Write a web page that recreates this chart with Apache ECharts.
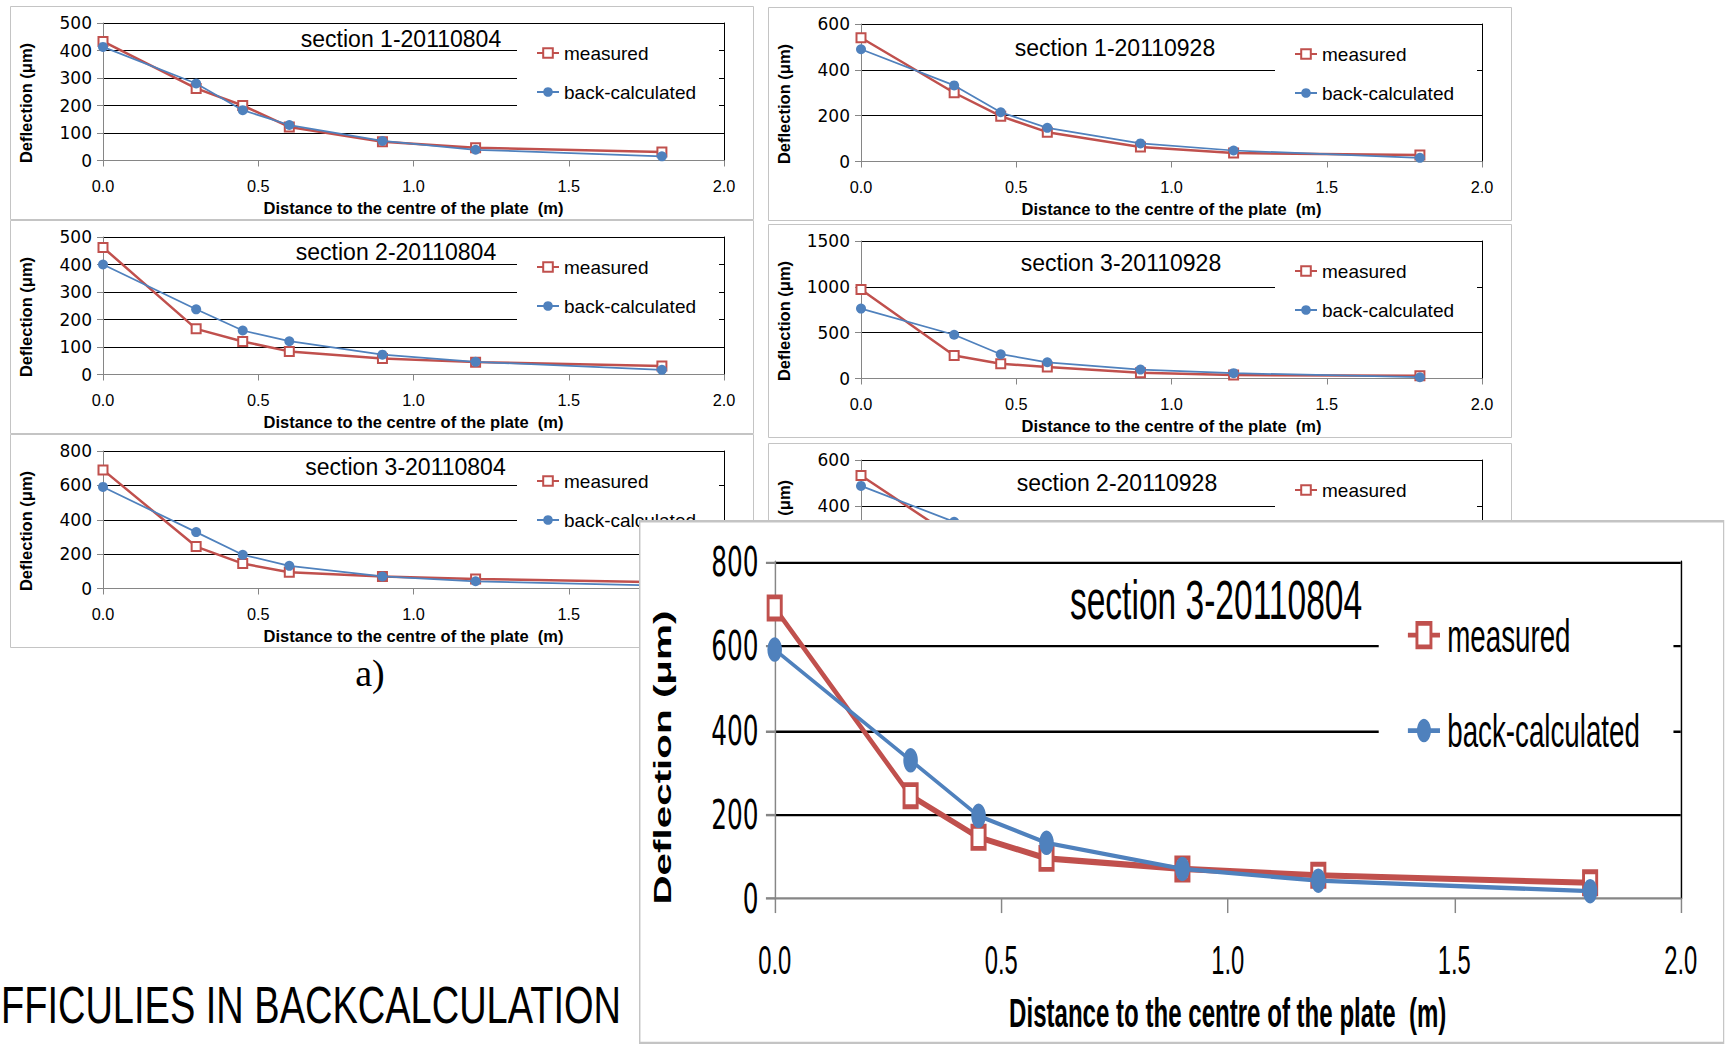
<!DOCTYPE html>
<html>
<head>
<meta charset="utf-8">
<script src="https://cdn.jsdelivr.net/npm/echarts@6/dist/echarts.min.js"></script>
<style>
  html, body { margin: 0; padding: 0; background: #fff; width: 1725px; height: 1046px; overflow: hidden; }
  .pane { position: absolute; }
</style>
</head>
<body>
<div id="page" class="pane" style="left:0;top:0;width:1725px;height:1046px"></div>
<div id="pA" class="pane" style="left:10px;top:6px;width:744px;height:214px"></div>
<div id="pC" class="pane" style="left:10px;top:220px;width:744px;height:214px"></div>
<div id="pE" class="pane" style="left:10px;top:434px;width:744px;height:214px"></div>
<div id="pB" class="pane" style="left:768px;top:7px;width:744px;height:214px"></div>
<div id="pD" class="pane" style="left:768px;top:224px;width:744px;height:214px"></div>
<div id="pF" class="pane" style="left:768px;top:443px;width:744px;height:214px"></div>
<!-- enlarged copy of section 3-20110804 -->
<div id="pBig" class="pane" style="left:639px;top:520px;width:744px;height:214px;transform:scale(1.459,2.449);transform-origin:0 0"></div>
<script>
// Distance of each geophone to the centre of the load plate (m)
const distance = [0, 0.3, 0.45, 0.6, 0.9, 1.2, 1.8];

// Deflections (µm)
const sec1_0804_measured = [433, 262, 200, 122, 68, 46, 31];
const sec1_0804_back     = [413, 280, 183, 129, 71, 39, 15];

const sec2_0804_measured = [462, 166, 120, 84, 58, 45, 31];
const sec2_0804_back     = [400, 237, 160, 121, 72, 46, 17];

const sec3_0804_measured = [690, 244, 145, 95, 70, 55, 37];
const sec3_0804_back     = [591, 328, 196, 132, 70, 42, 17];

const sec1_0928_measured = [540, 300, 198, 128, 63, 37, 28];
const sec1_0928_back     = [490, 332, 215, 147, 79, 48, 16];

const sec3_0928_measured = [970, 251, 161, 126, 62, 38, 30];
const sec3_0928_back     = [763, 477, 265, 177, 97, 58, 14];

const sec2_0928_measured = [532, 262, 172, 118, 64, 44, 30];
const sec2_0928_back     = [487, 330, 220, 150, 80, 50, 18];

// Axis scales
const xMax = 2.0, xStep = 0.5;

const SANS = "'Liberation Sans', Arial, sans-serif";
const RED = '#C0504D', BLUE = '#4F81BD';

function buildOption(p) {
  const pts = arr => distance.map((d, i) => [d, arr[i]]);
  const graphic = [
    { type: 'rect', silent: true, shape: { x: 0.5, y: 0.5, width: 743, height: 213 },
      style: { fill: 'none', stroke: '#c4c4c4', lineWidth: 1 } },
    { type: 'text', silent: true, x: p.tx, y: p.ty, z: 10,
      style: { text: p.title, fontFamily: SANS, fontSize: 23, fill: '#000', align: 'center', verticalAlign: 'middle' } },
    { type: 'text', silent: true, x: 16, y: 97, rotation: Math.PI / 2, z: 10,
      style: { text: 'Deflection (\u03bcm)', fontFamily: SANS, fontWeight: 'bold', fontSize: 16.5, fill: '#000', align: 'center', verticalAlign: 'middle' } }
  ];
  // the lower strip of a panel lying under the enlarged chart carries no x captions
  if (!p.lowerCovered) {
    graphic.push({ type: 'text', silent: true, x: 403.5, y: 201.5, z: 10,
      style: { text: 'Distance to the centre of the plate  (m)', fontFamily: SANS, fontWeight: 'bold', fontSize: 16.5, fill: '#000', align: 'center', verticalAlign: 'middle' } });
  }
  return {
    animation: false,
    backgroundColor: '#fff',
    grid: { left: 93, top: 17, width: 621, height: 137.5, show: false, containLabel: false, outerBoundsMode: 'none' },
    xAxis: {
      type: 'value', min: 0, max: xMax, interval: xStep,
      axisLine: { show: true, onZero: false, lineStyle: { color: '#868686', width: 1 } },
      axisTick: { show: true, length: 6, lineStyle: { color: '#868686', width: 1 } },
      axisLabel: { show: !p.lowerCovered, margin: 17, color: '#000', fontFamily: SANS, fontSize: 16.3, formatter: v => v.toFixed(1) },
      splitLine: { show: false }
    },
    yAxis: [
      {
        type: 'value', min: 0, max: p.yMax, interval: p.yStep,
        axisLine: { show: true, onZero: false, lineStyle: { color: '#868686', width: 1 } },
        axisTick: { show: true, length: 6, lineStyle: { color: '#868686', width: 1 } },
        axisLabel: { margin: 11, color: '#000', fontFamily: "'DejaVu Sans', sans-serif", fontSize: 17, formatter: v => String(v) },
        splitLine: { show: true, showMinLine: false, lineStyle: { color: '#000', width: 1 } }
      },
      {
        type: 'value', min: 0, max: p.yMax, position: 'right',
        axisLine: { show: true, onZero: false, lineStyle: { color: '#000', width: 1 } },
        axisTick: { show: false }, axisLabel: { show: false }, splitLine: { show: false }
      }
    ],
    legend: {
      orient: 'vertical', left: 507, top: 25,
      padding: [10, 23, 6, 19], itemGap: 15, itemWidth: 22, itemHeight: 12,
      backgroundColor: '#fff', selectedMode: false,
      textStyle: { fontFamily: SANS, fontSize: 19, color: '#000', lineHeight: 24 },
      data: ['measured', 'back-calculated']
    },
    series: [
      {
        name: 'measured', type: 'line', data: pts(p.measured),
        symbol: 'emptyRect', symbolSize: 9, color: RED,
        lineStyle: { color: RED, width: 2.5 },
        itemStyle: { color: RED, borderColor: RED, borderWidth: 1.5 },
        z: 2
      },
      {
        name: 'back-calculated', type: 'line', data: pts(p.back),
        symbol: 'circle', symbolSize: 10, color: BLUE,
        lineStyle: { color: BLUE, width: 1.75 },
        itemStyle: { color: BLUE },
        z: 3
      }
    ],
    graphic: graphic
  };
}

const panels = [
  { el: 'pA', title: 'section 1-20110804', tx: 391, ty: 32.5, yMax: 500, yStep: 100, measured: sec1_0804_measured, back: sec1_0804_back },
  { el: 'pC', title: 'section 2-20110804', tx: 386, ty: 32, yMax: 500, yStep: 100, measured: sec2_0804_measured, back: sec2_0804_back },
  { el: 'pE', title: 'section 3-20110804', tx: 395.5, ty: 32.5, yMax: 800, yStep: 200, measured: sec3_0804_measured, back: sec3_0804_back },
  { el: 'pB', title: 'section 1-20110928', tx: 347, ty: 40.5, yMax: 600, yStep: 200, measured: sec1_0928_measured, back: sec1_0928_back },
  { el: 'pD', title: 'section 3-20110928', tx: 353, ty: 39, yMax: 1500, yStep: 500, measured: sec3_0928_measured, back: sec3_0928_back },
  { el: 'pF', title: 'section 2-20110928', tx: 349, ty: 40, yMax: 600, yStep: 200, measured: sec2_0928_measured, back: sec2_0928_back, lowerCovered: true },
  { el: 'pBig', title: 'section 3-20110804', tx: 395.5, ty: 32.5, yMax: 800, yStep: 200, measured: sec3_0804_measured, back: sec3_0804_back }
];

// Page-level captions
const page = echarts.init(document.getElementById('page'), null, { renderer: 'svg' });
page.setOption({
  animation: false,
  backgroundColor: '#fff',
  graphic: [
    { type: 'text', silent: true, x: 370, y: 673,
      style: { text: 'a)', fontFamily: "'Liberation Serif', 'Times New Roman', serif", fontSize: 38, fill: '#000', align: 'center', verticalAlign: 'middle' } },
    // narrow headline: regular sans compressed horizontally
    { type: 'text', silent: true, x: 1, y: 1005, scaleX: 0.745,
      style: { text: 'FFICULIES IN BACKCALCULATION', fontFamily: SANS, fontSize: 51, fill: '#000', align: 'left', verticalAlign: 'middle' } }
  ]
});

panels.forEach(p => {
  const chart = echarts.init(document.getElementById(p.el), null, { renderer: 'svg' });
  chart.setOption(buildOption(p));
});
</script>
</body>
</html>
